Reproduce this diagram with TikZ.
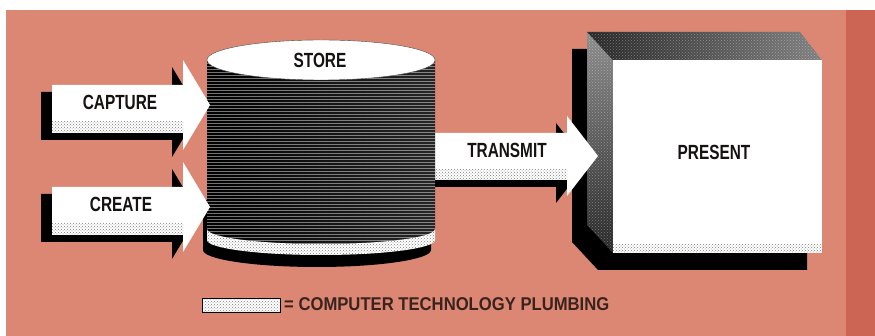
\documentclass[tikz,border=0pt]{standalone}
\usepackage{fontspec}
\setmainfont{Liberation Sans}[FakeStretch=0.75]
\newfontfamily\legendfont{Liberation Sans}[FakeStretch=0.9]
\usetikzlibrary{patterns}
\definecolor{plumSalmon}{HTML}{DB8773}
\definecolor{plumRed}{HTML}{CC6553}
\definecolor{plumInk}{HTML}{161212}
\tikzset{
  stageText/.style={font=\bfseries\fontsize{20.5}{22}\selectfont, text=plumInk, inner sep=0pt},
  legendText/.style={font=\legendfont\bfseries\fontsize{18.5}{20}\selectfont, text=plumInk!80!plumRed, inner sep=0pt},
  plumbing/.style={preaction={fill=white}, pattern=crosshatch dots, pattern color=black!50},
  dropShadow/.style={fill=black},
  halftone/.style={pattern=crosshatch dots, pattern color=white, opacity=0.35},
  stripe/.style={draw=white, line width=0.7pt, opacity=0.45}
}
% block arrow: left x, base x, tip x, top y, band y, bottom y, tip y, half head
\newcommand{\plumbarrow}[8]{%
  \begin{scope}[shift={(-11,7)}]
    \fill[dropShadow] (#1,#4) -- (#2,#4) -- (#2,{#7-#8}) -- (#3,#7) -- (#2,{#7+#8}) -- (#2,#6) -- (#1,#6) -- cycle;
  \end{scope}
  \fill[white] (#1,#4) -- (#2,#4) -- (#2,{#7-#8}) -- (#3,#7) -- (#2,{#7+#8}) -- (#2,#6) -- (#1,#6) -- cycle;
  \fill[plumbing] (#1,#5) rectangle (#2,#6);
}

\begin{document}
\begin{tikzpicture}[x=1pt, y=-1pt]
  \useasboundingbox (0,0) rectangle (875,336);
  \fill[plumSalmon] (6,10) rectangle (875,336);
  \fill[plumRed] (846,10) rectangle (875,336);

  % present box
  \fill[dropShadow] (572,49) -- (785,49) -- (807,77) -- (807,270) -- (598,270) -- (572,242) -- cycle;
  \shade[top color=black!45, bottom color=black!85] (587,32) -- (613,60) -- (613,253) -- (587,225) -- cycle;
  \fill[halftone] (587,32) -- (613,60) -- (613,253) -- (587,225) -- cycle;
  \shade[left color=black!85, right color=black!50] (587,32) -- (800,32) -- (822,60) -- (613,60) -- cycle;
  \fill[halftone] (587,32) -- (800,32) -- (822,60) -- (613,60) -- cycle;
  \fill[white] (613,60) rectangle (822,245);
  \fill[plumbing] (613,245) rectangle (822,253);
  \node[stageText] (present) at (714,152) {PRESENT};

  % transmit
  \plumbarrow{425}{567}{598}{133}{170}{180}{156}{40}
  \node[stageText] (transmit) at (507,150) {TRANSMIT};

  % store cylinder
  \fill[dropShadow] (203,200) -- (203,250) arc[start angle=180, end angle=0, x radius=114, y radius=17] -- (431,200) -- cycle;
  \begin{scope}
    \clip (207,60) -- (207,229) arc[start angle=180, end angle=0, x radius=114, y radius=15] -- (435,60) -- cycle;
    \shade[left color=black, middle color=black!45, right color=black!85] (205,40) rectangle (437,250);
    \foreach \yy in {63,66,...,250}
      \draw[stripe] (205,\yy) -- (437,\yy);
  \end{scope}
  \fill[plumbing] (207,229) arc[start angle=180, end angle=0, x radius=114, y radius=15] -- (435,240) arc[start angle=0, end angle=180, x radius=114, y radius=15] -- cycle;
  \filldraw[fill=white, draw=black!70] (321,60) ellipse[x radius=114, y radius=20];
  \node[stageText] (store) at (320,60) {STORE};

  % capture and create
  \plumbarrow{52}{183}{210}{85}{122}{133}{105}{45}
  \node[stageText] (capture) at (120,102) {CAPTURE};
  \plumbarrow{52}{183}{210}{187}{223}{235}{207}{45}
  \node[stageText] (create) at (121,204) {CREATE};

  % legend
  \filldraw[plumbing, draw=black, line width=0.8pt] (202,298) rectangle (280,312);
  \node[legendText, anchor=west] (legend) at (284,304) {= COMPUTER TECHNOLOGY PLUMBING};
\end{tikzpicture}
\end{document}
